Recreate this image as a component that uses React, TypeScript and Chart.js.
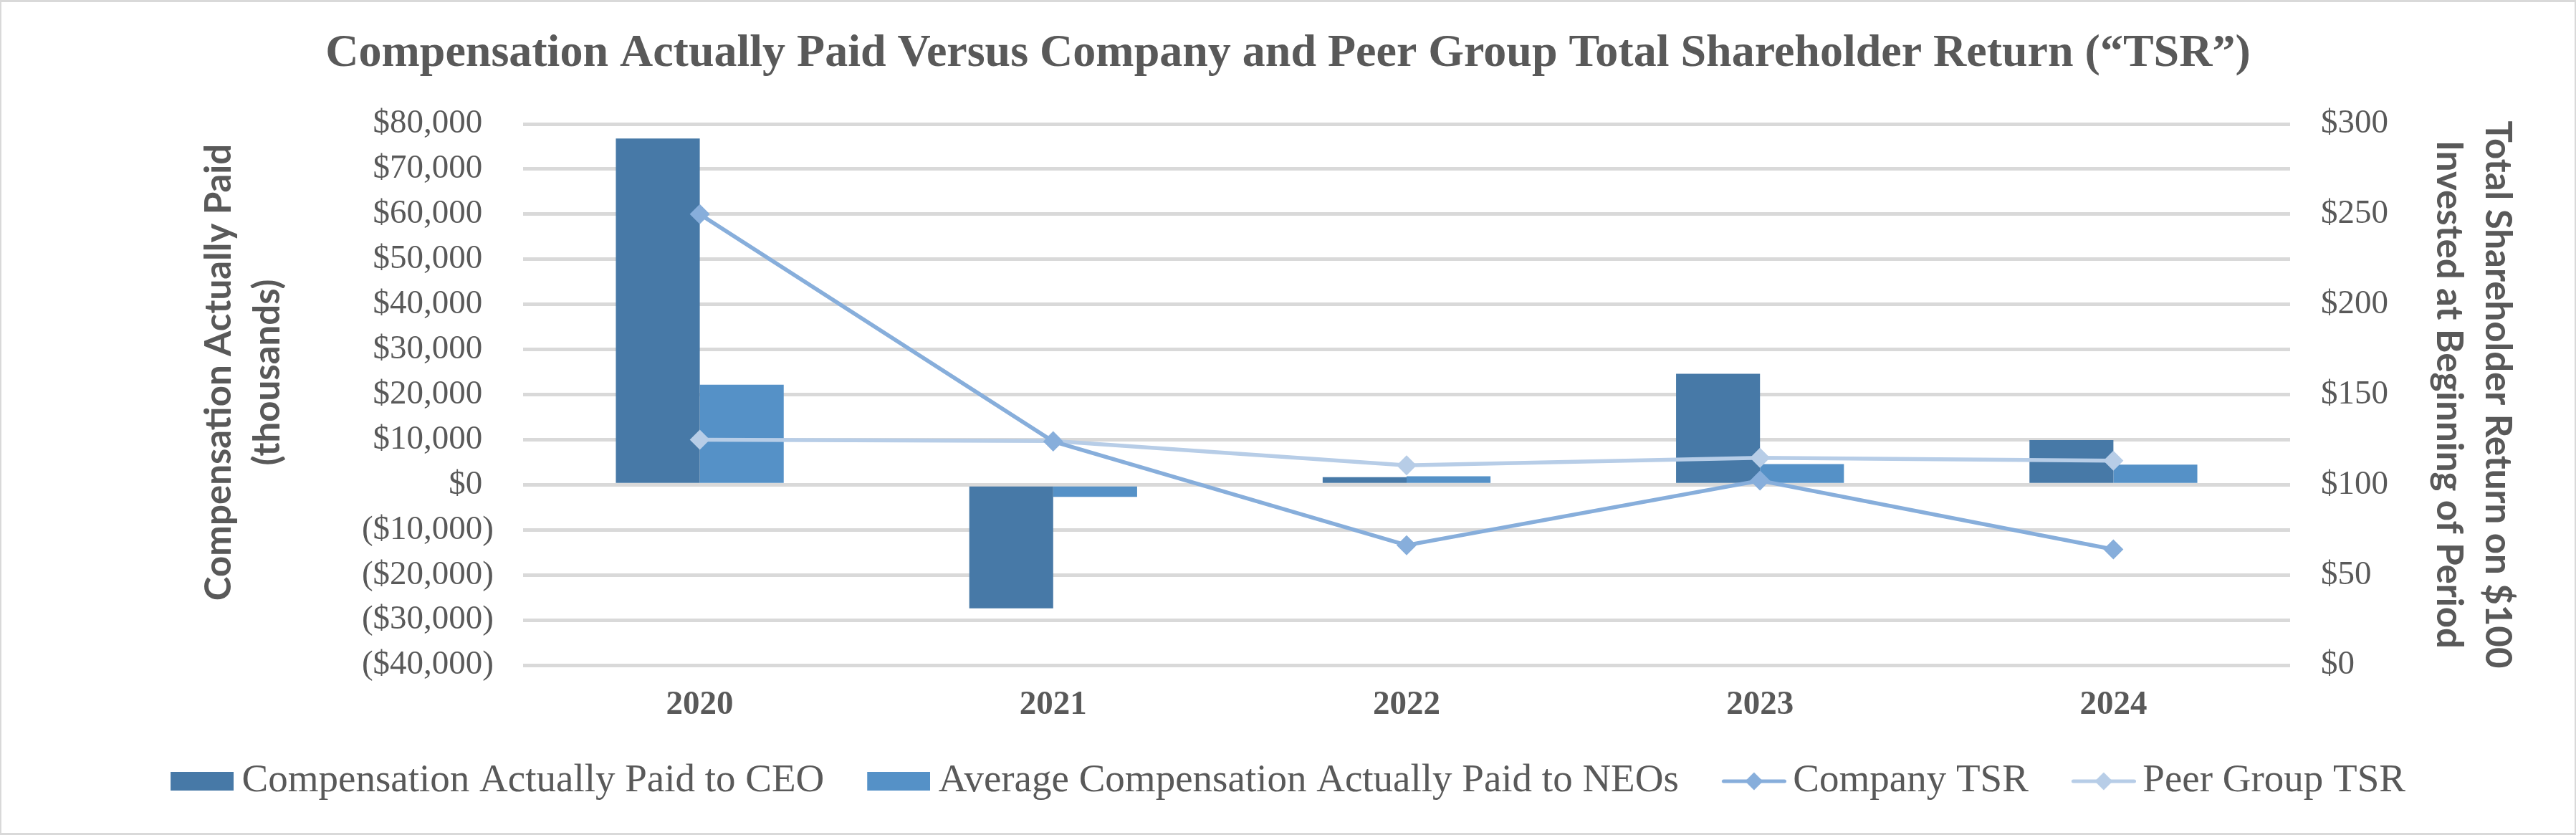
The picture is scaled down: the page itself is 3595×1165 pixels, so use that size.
import React, { useEffect, useRef } from 'react';
import { Chart, registerables } from 'chart.js';

Chart.register(...registerables);

// ---------- data ----------
const categories = ['2020', '2021', '2022', '2023', '2024'];
const ceoCap = [76800, -27400, 1700, 24600, 9900];
const neoCap = [22200, -2700, 1900, 4600, 4450];
const companyTsr = [250, 124, 66.5, 102.3, 64.2];
const peerTsr = [125, 124.3, 110.8, 114.9, 113.3];
const leftTicks = [-40000, -30000, -20000, -10000, 0, 10000, 20000, 30000, 40000, 50000, 60000, 70000, 80000];
const rightTicks = [0, 50, 100, 150, 200, 250, 300];
const seriesNames = [
  'Compensation Actually Paid to CEO',
  'Average Compensation Actually Paid to NEOs',
  'Company TSR',
  'Peer Group TSR',
];
const chartTitle = 'Compensation Actually Paid Versus Company and Peer Group Total Shareholder Return (\u201CTSR\u201D)';
const leftTitle = ['     Compensation Actually Paid', '     (thousands)'];
const rightTitle = ['Total Shareholder Return on $100', 'Invested at Beginning of Period'];

// ---------- styles ----------
const TEXT = '#595959';
const GRID = '#D9D9D9';
const C_CEO = '#4779A7';
const C_NEO = '#5591C7';
const C_COMP = '#87AEDB';
const C_PEER = '#B7CDE7';
const SERIF = "'Liberation Serif', 'Times New Roman', serif";
const SANS = "Lato, 'Open Sans', sans-serif";

const fmtLeft = (v: number) =>
  v < 0 ? `($${Math.abs(v).toLocaleString('en-US')})` : `$${v.toLocaleString('en-US')}\u2004`;
const fmtRight = (v: number) => `$${v}`;

function barSwatch(color: string) {
  const c = document.createElement('canvas');
  c.width = 104;
  c.height = 28;
  const g = c.getContext('2d')!;
  g.fillStyle = color;
  g.fillRect(16, 1, 88, 26);
  return c;
}

function lineSwatch(color: string) {
  const c = document.createElement('canvas');
  c.width = 108;
  c.height = 28;
  const g = c.getContext('2d')!;
  g.strokeStyle = color;
  g.lineWidth = 5;
  g.lineCap = 'round';
  g.beginPath();
  g.moveTo(20.5, 14);
  g.lineTo(105.5, 14);
  g.stroke();
  g.fillStyle = color;
  g.beginPath();
  g.moveTo(63 - 12.5, 14);
  g.lineTo(63, 14 - 12.5);
  g.lineTo(63 + 12.5, 14);
  g.lineTo(63, 14 + 12.5);
  g.closePath();
  g.fill();
  return c;
}

export default function App() {
  const ref = useRef<HTMLCanvasElement | null>(null);

  useEffect(() => {
    if (!ref.current) return;
    const swatches = [barSwatch(C_CEO), barSwatch(C_NEO), lineSwatch(C_COMP), lineSwatch(C_PEER)];
    const colors = [C_CEO, C_NEO, C_COMP, C_PEER];

    const chart = new Chart(ref.current, {
      type: 'bar',
      data: {
        labels: categories,
        datasets: [
          {
            type: 'bar',
            label: seriesNames[0],
            data: ceoCap,
            backgroundColor: C_CEO,
            borderWidth: 0,
            yAxisID: 'y',
            order: 1,
            barPercentage: 1,
            categoryPercentage: 0.475,
          },
          {
            type: 'bar',
            label: seriesNames[1],
            data: neoCap,
            backgroundColor: C_NEO,
            borderWidth: 0,
            yAxisID: 'y',
            order: 1,
            barPercentage: 1,
            categoryPercentage: 0.475,
          },
          {
            type: 'line',
            label: seriesNames[2],
            data: companyTsr,
            borderColor: C_COMP,
            backgroundColor: C_COMP,
            borderWidth: 5.5,
            pointStyle: 'rectRot',
            pointRadius: 14,
            pointBorderWidth: 0,
            pointBackgroundColor: C_COMP,
            tension: 0,
            fill: false,
            yAxisID: 'y1',
            order: 0,
          },
          {
            type: 'line',
            label: seriesNames[3],
            data: peerTsr,
            borderColor: C_PEER,
            backgroundColor: C_PEER,
            borderWidth: 5.5,
            pointStyle: 'rectRot',
            pointRadius: 14,
            pointBorderWidth: 0,
            pointBackgroundColor: C_PEER,
            tension: 0,
            fill: false,
            yAxisID: 'y1',
            order: 0,
          },
        ] as any,
      },
      options: {
        animation: false,
        responsive: true,
        maintainAspectRatio: false,
        layout: { padding: { top: 0, left: 0, right: 0, bottom: 37.5 } },
        plugins: {
          tooltip: { enabled: false },
          title: {
            display: true,
            text: chartTitle,
            color: TEXT,
            font: { family: SERIF, size: 64, weight: 'bold', lineHeight: 1.2 },
            padding: { top: 36.6, bottom: 59.6 },
          },
          legend: {
            display: true,
            position: 'bottom',
            labels: {
              usePointStyle: true,
              pointStyleWidth: 72,
              padding: 60,
              color: TEXT,
              font: { family: SERIF, size: 55 },
              generateLabels: () =>
                seriesNames.map((name, i) => ({
                  text: name,
                  fillStyle: colors[i],
                  strokeStyle: colors[i],
                  fontColor: TEXT,
                  lineWidth: 0,
                  hidden: false,
                  pointStyle: swatches[i] as any,
                  datasetIndex: i,
                })),
            },
          },
        },
        scales: {
          x: {
            type: 'category',
            offset: true,
            grid: { display: false, drawTicks: false },
            border: { display: false },
            ticks: {
              color: TEXT,
              padding: 28,
              font: { family: SERIF, size: 47, weight: 'bold' },
            },
            afterFit: (s: any) => {
              s.height = 74.5;
            },
          },
          y: {
            type: 'linear',
            position: 'left',
            min: -40000,
            max: 80000,
            afterBuildTicks: (s: any) => {
              s.ticks = leftTicks.map((v) => ({ value: v }));
            },
            grid: { color: GRID, lineWidth: 5, drawTicks: false },
            border: { display: false },
            ticks: {
              color: TEXT,
              padding: 41,
              font: { family: SERIF, size: 47 },
              callback: (v: any) => fmtLeft(Number(v)),
            },
            title: {
              display: true,
              text: leftTitle,
              color: TEXT,
              font: { family: SANS, size: 51, weight: 'bold', lineHeight: 1.333 },
              padding: { top: 272, bottom: 0 },
            },
            afterFit: (s: any) => {
              s.width = 730;
            },
          },
          y1: {
            type: 'linear',
            position: 'right',
            min: 0,
            max: 300,
            afterBuildTicks: (s: any) => {
              s.ticks = rightTicks.map((v) => ({ value: v }));
            },
            grid: { display: false, drawTicks: false },
            border: { display: false },
            ticks: {
              color: TEXT,
              padding: 43,
              font: { family: SERIF, size: 47 },
              callback: (v: any) => fmtRight(Number(v)),
            },
            title: {
              display: true,
              text: rightTitle,
              color: TEXT,
              font: { family: SANS, size: 51, weight: 'bold', lineHeight: 1.333 },
              padding: { top: 76, bottom: 0 },
            },
            afterFit: (s: any) => {
              s.width = 399;
            },
          },
        },
      } as any,
    });

    return () => chart.destroy();
  }, []);

  return (
    <div
      style={{
        position: 'absolute',
        left: 0,
        top: 0,
        width: 3595,
        height: 1165,
        background: '#ffffff',
        overflow: 'hidden',
      }}
    >
      <div style={{ position: 'absolute', left: 0, top: 0, width: 3595, height: 1165 }}>
        <canvas ref={ref} />
      </div>
      <div
        style={{
          position: 'absolute',
          left: 0,
          top: 0,
          width: 3595,
          height: 1165,
          boxSizing: 'border-box',
          borderTop: `3px solid ${GRID}`,
          borderBottom: `3px solid ${GRID}`,
          borderLeft: `2px solid ${GRID}`,
          borderRight: `2px solid ${GRID}`,
          pointerEvents: 'none',
        }}
      />
    </div>
  );
}
